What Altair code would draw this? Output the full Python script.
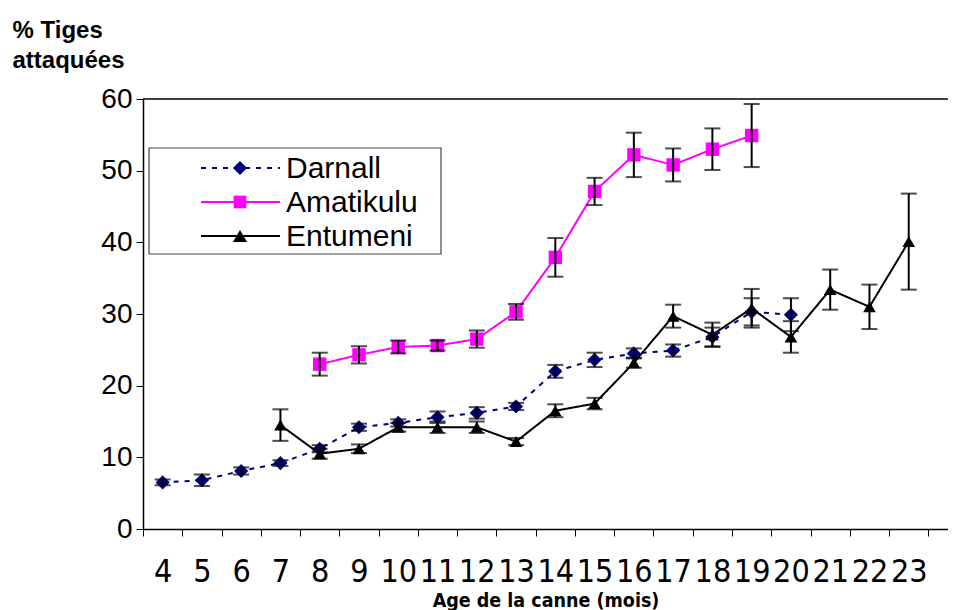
import altair as alt
import pandas as pd

# ---- data ----
series_names = ["Darnall", "Amatikulu", "Entumeni"]
series_colors = ["#000080", "#FF00FF", "#000000"]
series_shapes = ["diamond", "square", "triangle-up"]
series_dash = [[5, 6], [1, 0], [1, 0]]
series_sizes = [200, 160, 200]

ages_darnall = list(range(4, 21))
darnall = [6.5, 6.8, 8.1, 9.2, 11.2, 14.2, 14.8, 15.6, 16.2, 17.1, 22.0, 23.6, 24.5, 24.9, 26.8, 30.3, 29.9]
darnall_err = [0.4, 0.8, 0.5, 0.4, 0.5, 0.5, 0.5, 0.8, 0.8, 0.5, 0.9, 1.0, 0.7, 0.85, 1.3, 1.9, 2.3]

ages_amat = list(range(8, 20))
amatikulu = [23.0, 24.3, 25.4, 25.6, 26.5, 30.3, 37.9, 47.1, 52.2, 50.8, 53.0, 54.9]
amatikulu_err = [1.6, 1.2, 0.9, 0.7, 1.2, 1.1, 2.7, 1.9, 3.1, 2.3, 2.9, 4.4]

ages_ent = list(range(7, 24))
entumeni = [14.5, 10.5, 11.2, 14.2, 14.2, 14.2, 12.2, 16.5, 17.5, 23.2, 29.7, 27.1, 30.8, 26.8, 33.4, 31.0, 40.1]
entumeni_err = [2.2, 0.7, 0.6, 0.6, 0.8, 0.8, 0.5, 0.9, 0.8, 0.7, 1.6, 1.7, 2.7, 2.2, 2.8, 3.1, 6.7]

x_labels = list(range(4, 24))
y_ticks = [0, 10, 20, 30, 40, 50, 60]

# ---- build long table ----
rows = []
for name, ages, vals, errs in [
    ("Darnall", ages_darnall, darnall, darnall_err),
    ("Amatikulu", ages_amat, amatikulu, amatikulu_err),
    ("Entumeni", ages_ent, entumeni, entumeni_err),
]:
    for a, v, e in zip(ages, vals, errs):
        rows.append({"series": name, "age": a, "val": v, "lo": v - e, "hi": v + e})
df = pd.DataFrame(rows)

FONT = "Arial, Liberation Sans, sans-serif"
NARROW = "Liberation Sans Narrow, DejaVu Sans Condensed, Arial, sans-serif"

tick_vals = [x / 2 for x in range(7, 48)]  # 3.5 .. 23.5
x_scale = alt.Scale(domain=[3.5, 24.0], nice=False, zero=False)
y_scale = alt.Scale(domain=[0, 60], nice=False)

x_axis = alt.Axis(
    values=tick_vals,
    labelExpr="datum.value % 1 === 0 ? format(datum.value, 'd') : ''",
    tickOpacity={"condition": {"test": "datum.value % 1 === 0", "value": 0}, "value": 1},
    labelFont=NARROW, labelFontSize=32, labelColor="black",
    labelPadding=20, labelOverlap=False, labelFlush=False, labelBound=False,
    tickSize=7, tickColor="black", tickWidth=1,
    domainColor="black", domainWidth=1.5, grid=False,
    title="Age de la canne (mois)", titleFont=NARROW, titleFontSize=19.5,
    titleFontWeight="bold", titleColor="black", titleY=77, titleBaseline="alphabetic",
)
y_axis = alt.Axis(
    values=y_ticks, grid=False,
    labelFont=FONT, labelFontSize=28, labelColor="black", labelPadding=4,
    tickSize=7, tickColor="black", tickWidth=1,
    domainColor="black", domainWidth=1.5,
    title=["% Tiges", "attaquées"], titleAngle=0, titleX=-131, titleY=-62,
    titleAlign="left", titleBaseline="alphabetic", titleFont=FONT,
    titleFontSize=24, titleFontWeight="bold", titleColor="black", titleLineHeight=30,
)

X = alt.X("age:Q", scale=x_scale, axis=x_axis)
color = alt.Color("series:N", scale=alt.Scale(domain=series_names, range=series_colors), legend=None)

base = alt.Chart(df)

lines = base.mark_line(strokeWidth=2).encode(
    x=X,
    y=alt.Y("val:Q", scale=y_scale, axis=y_axis),
    color=color,
    strokeDash=alt.StrokeDash("series:N", scale=alt.Scale(domain=series_names, range=series_dash), legend=None),
    detail="series:N",
)

points = base.mark_point(filled=True, opacity=1, strokeWidth=0).encode(
    x=X,
    y=alt.Y("val:Q", scale=y_scale, axis=y_axis),
    color=color,
    shape=alt.Shape("series:N", scale=alt.Scale(domain=series_names, range=series_shapes), legend=None),
    size=alt.Size("series:N", scale=alt.Scale(domain=series_names, range=series_sizes), legend=None),
)

err_rule = base.mark_rule(color="black", strokeWidth=2).encode(
    x=X,
    y=alt.Y("lo:Q", scale=y_scale, axis=y_axis),
    y2="hi:Q",
)
err_lo = base.mark_tick(color="black", orient="horizontal", size=16, thickness=2).encode(
    x=X, y=alt.Y("lo:Q", scale=y_scale, axis=y_axis)
)
err_hi = base.mark_tick(color="black", orient="horizontal", size=16, thickness=2).encode(
    x=X, y=alt.Y("hi:Q", scale=y_scale, axis=y_axis)
)

top_line = alt.Chart(pd.DataFrame({"t": [60]})).mark_rule(color="black", strokeWidth=1.5).encode(
    y=alt.Y("t:Q", scale=y_scale, axis=y_axis)
)

# ---- manual legend (Excel-style: line through marker) ----
legend_layers = [
    alt.Chart(pd.DataFrame({"a": [0]})).mark_rect(fill="white", stroke="#444444", strokeWidth=1.2).encode(
        x=alt.value(6), x2=alt.value(298), y=alt.value(49), y2=alt.value(155)
    )
]
for i, name in enumerate(series_names):
    ly = 69 + 34 * i
    one = alt.Chart(pd.DataFrame({"name": [name]}))
    legend_layers.append(
        one.mark_rule(color=series_colors[i], strokeWidth=2, strokeDash=series_dash[i]).encode(
            x=alt.value(58), x2=alt.value(137), y=alt.value(ly)
        )
    )
    legend_layers.append(
        one.mark_point(filled=True, opacity=1, strokeWidth=0, shape=series_shapes[i],
                       size=series_sizes[i], color=series_colors[i]).encode(
            x=alt.value(97), y=alt.value(ly)
        )
    )
    legend_layers.append(
        one.mark_text(align="left", baseline="middle", font=FONT, fontSize=30, color="black").encode(
            x=alt.value(143), y=alt.value(ly + 1), text="name:N"
        )
    )

chart = alt.layer(
    top_line, lines, points, err_rule, err_lo, err_hi, *legend_layers
).properties(
    width=805, height=430,
    autosize=alt.AutoSizeParams(type="none"),
    padding={"left": 135, "top": 91, "right": 0, "bottom": 81},
    background="white",
).configure_view(stroke=None)

chart.save("out.html", embed_options={"renderer": "svg", "actions": False})
